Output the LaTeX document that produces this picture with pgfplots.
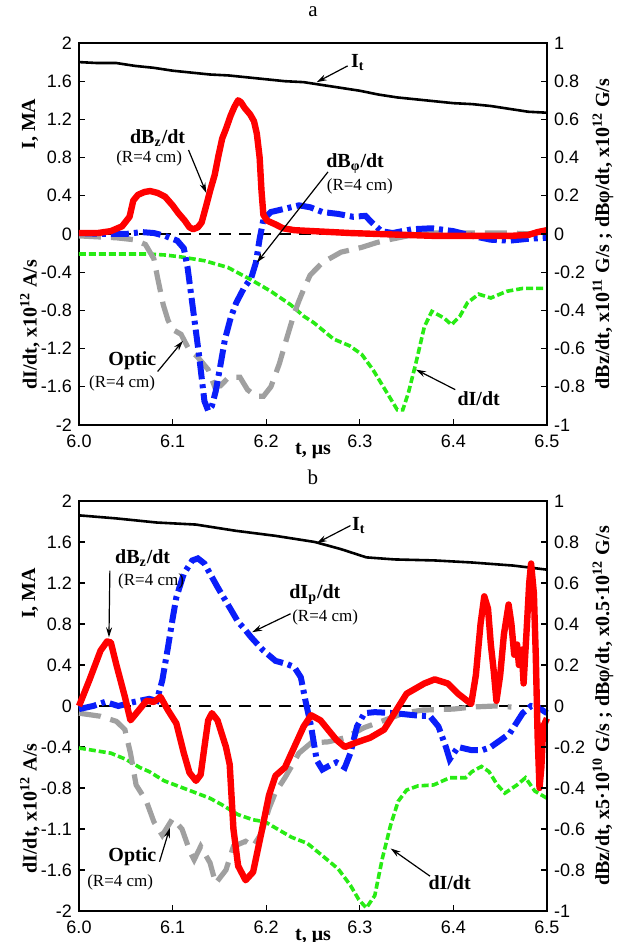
\documentclass[border=0pt]{standalone}
\usepackage{fontspec}
\setmainfont{Liberation Serif}
\newfontfamily\arial{Liberation Sans}
\usepackage{pgfplots}
\pgfplotsset{compat=1.18}
\usetikzlibrary{arrows.meta}

\definecolor{dbred}{RGB}{255,0,0}
\definecolor{dbblue}{RGB}{10,30,250}
\definecolor{optgray}{RGB}{160,160,160}
\definecolor{digreen}{RGB}{40,235,20}

\pgfplotsset{
  panel/.style={scale only axis, width=234pt, anchor=south west,
    xmin=6, xmax=6.5, ymin=-2, ymax=2, clip=false,
    xtick={6,6.1,6.2,6.3,6.4,6.5}, xticklabels={6.0,6.1,6.2,6.3,6.4,6.5},
    ytick={-2,-1.6,-1.2,-0.8,-0.4,0,0.4,0.8,1.2,1.6,2},
    tick label style={font=\arial\fontsize{9}{10}\selectfont},
    xticklabel style={yshift=-1.5pt},
    xtick pos=bottom, ytick pos=left, major tick length=3pt,
    tick style={black, line width=0.6pt},
    axis line style={line width=0.8pt}},
  rightax/.style={scale only axis, width=234pt, anchor=south west,
    xmin=6, xmax=6.5, ymin=-1, ymax=1,
    axis y line*=right, axis x line=none,
    ytick={-1,-0.8,-0.6,-0.4,-0.2,0,0.2,0.4,0.6,0.8,1},
    yticklabels={-1,-0.8,-0.6,-0.4,-0.2,0,0.2,0.4,0.6,0.8,1},
    tick label style={font=\arial\fontsize{9}{10}\selectfont},
    major tick length=3pt, tick style={black, line width=0.6pt},
    axis line style={line width=0.8pt}},
  itline/.style={black, line width=1.3pt},
  zeroline/.style={black, line width=1pt, dash pattern=on 6pt off 4pt},
  redline/.style={dbred, line width=3.2pt, line join=round},
  blueline/.style={dbblue, line width=3pt, dash pattern=on 9pt off 2.5pt on 2pt off 2.5pt},
  grayline/.style={optgray, line width=2.6pt, dash pattern=on 11pt off 5pt},
  greenline/.style={digreen, line width=1.8pt, dash pattern=on 3.5pt off 1.5pt},
}
\tikzset{ann/.style={-{Stealth[length=5pt,width=3pt]}, line width=0.6pt},
  big/.style={font=\bfseries\fontsize{10}{11}\selectfont, inner sep=1pt},
  small/.style={font=\fontsize{8.5}{9}\selectfont, inner sep=1pt}}

\begin{document}
\begin{tikzpicture}
\useasboundingbox (0,0) rectangle (308pt,471pt);

% ---------- panel a ----------
\begin{axis}[panel, name=pa, at={(39.5pt,258.5pt)}, height=191pt,
  yticklabels={-2,-1.6,-1.2,-0.8,-0.4,0,0.4,0.8,1.2,1.6,2}]
\addplot[itline] coordinates {(6.00,1.80) (6.02,1.79) (6.04,1.79) (6.06,1.76) (6.08,1.74)
  (6.10,1.71) (6.12,1.69) (6.14,1.67) (6.16,1.66) (6.18,1.64) (6.20,1.62) (6.22,1.60)
  (6.24,1.59) (6.26,1.56) (6.28,1.53) (6.30,1.50) (6.32,1.46) (6.34,1.43) (6.36,1.41)
  (6.38,1.39) (6.40,1.37) (6.42,1.36) (6.44,1.34) (6.46,1.31) (6.48,1.28) (6.50,1.27)};
\addplot[zeroline] coordinates {(6,0) (6.5,0)};
\addplot[greenline] coordinates {(6.000,-0.21) (6.075,-0.21) (6.092,-0.22) (6.109,-0.24)
  (6.134,-0.28) (6.159,-0.35) (6.184,-0.48) (6.205,-0.60) (6.226,-0.74) (6.240,-0.86)
  (6.251,-0.93) (6.272,-1.10) (6.289,-1.17) (6.302,-1.26) (6.314,-1.42) (6.327,-1.63)
  (6.340,-1.84) (6.346,-1.84) (6.352,-1.66) (6.360,-1.35) (6.369,-0.97) (6.377,-0.81)
  (6.390,-0.88) (6.398,-0.95) (6.407,-0.86) (6.415,-0.72) (6.427,-0.63) (6.440,-0.67)
  (6.457,-0.60) (6.474,-0.57) (6.500,-0.57)};
\addplot[grayline] coordinates {(6.000,-0.02) (6.040,-0.04) (6.059,-0.06) (6.071,-0.11)
  (6.080,-0.26) (6.084,-0.46) (6.090,-0.74) (6.095,-0.90) (6.100,-1.00) (6.109,-1.05)
  (6.117,-1.20) (6.126,-1.28) (6.138,-1.42) (6.145,-1.60) (6.151,-1.59) (6.160,-1.50)
  (6.172,-1.50) (6.180,-1.63) (6.189,-1.70) (6.197,-1.70) (6.205,-1.60) (6.214,-1.36)
  (6.222,-1.09) (6.230,-0.83) (6.235,-0.70) (6.240,-0.58) (6.247,-0.43) (6.260,-0.30)
  (6.280,-0.19) (6.302,-0.14) (6.318,-0.09) (6.331,-0.06) (6.356,-0.01) (6.377,0.01)
  (6.420,0.01) (6.460,0.01) (6.486,0.00)};
\addplot[blueline] coordinates {(6.000,0.01) (6.030,0.00) (6.050,0.00) (6.067,0.02)
  (6.080,0.01) (6.092,-0.02) (6.105,-0.07) (6.112,-0.15) (6.116,-0.35) (6.120,-0.65)
  (6.124,-0.95) (6.128,-1.25) (6.131,-1.50) (6.134,-1.75) (6.138,-1.85) (6.142,-1.80)
  (6.146,-1.65) (6.151,-1.38) (6.156,-1.10) (6.162,-0.88) (6.168,-0.72) (6.176,-0.57)
  (6.184,-0.46) (6.189,-0.30) (6.193,-0.05) (6.197,0.15) (6.205,0.23) (6.218,0.26)
  (6.235,0.30) (6.247,0.28) (6.260,0.23) (6.277,0.21) (6.293,0.18) (6.306,0.19)
  (6.314,0.11) (6.323,0.03) (6.335,0.01) (6.356,0.05) (6.377,0.06) (6.400,0.03)
  (6.420,-0.02) (6.440,-0.06) (6.460,-0.07) (6.480,-0.05) (6.500,-0.04)};
\addplot[redline] coordinates {(6.000,0.01) (6.020,0.01) (6.034,0.03) (6.046,0.08)
  (6.054,0.18) (6.058,0.35) (6.063,0.41) (6.070,0.44) (6.076,0.45) (6.084,0.43)
  (6.092,0.39) (6.100,0.30) (6.106,0.22) (6.113,0.14) (6.118,0.07) (6.122,0.05)
  (6.127,0.07) (6.131,0.12) (6.136,0.30) (6.140,0.45) (6.145,0.62) (6.149,0.82)
  (6.153,1.00) (6.157,1.10) (6.162,1.24) (6.166,1.33) (6.170,1.40) (6.173,1.38)
  (6.177,1.32) (6.183,1.25) (6.187,1.18) (6.190,1.05) (6.193,0.80) (6.195,0.45)
  (6.197,0.20) (6.201,0.14) (6.210,0.10) (6.218,0.06) (6.230,0.04) (6.250,0.03)
  (6.270,0.02) (6.290,0.01) (6.320,0.00) (6.350,-0.01) (6.380,-0.02) (6.420,-0.02)
  (6.460,-0.02) (6.480,-0.01) (6.490,0.02) (6.500,0.04)};
% annotations
\node[big] at (axis cs:6.298,1.80) {I\textsubscript{t}};
\draw[ann] (axis cs:6.287,1.76) -- (axis cs:6.254,1.59);
\node[big] at (axis cs:6.084,1.00) {dB\textsubscript{z}/dt};
\node[small] at (axis cs:6.075,0.79) {(R=4 cm)};
\draw[ann] (axis cs:6.117,0.88) -- (axis cs:6.136,0.43);
\node[big] at (axis cs:6.295,0.74) {dB\textsubscript{φ}/dt};
\node[small] at (axis cs:6.300,0.50) {(R=4 cm)};
\draw[ann] (axis cs:6.266,0.65) -- (axis cs:6.190,-0.30);
\node[big] at (axis cs:6.057,-1.33) {Optic};
\node[small] at (axis cs:6.046,-1.56) {(R=4 cm)};
\draw[ann] (axis cs:6.084,-1.44) -- (axis cs:6.111,-1.12);
\node[big] at (axis cs:6.427,-1.72) {dI/dt};
\draw[ann] (axis cs:6.402,-1.63) -- (axis cs:6.360,-1.42);
% labels
\node[font=\fontsize{10.5}{11}\selectfont] at ([yshift=15.5pt]axis cs:6.25,2) {a};
\node[big] at ([yshift=-13pt]axis cs:6.25,-2) {t, μs};
\node[big, rotate=90] at ([xshift=-24.5pt]axis cs:6,1.15) {I, MA};
\node[big, rotate=90] at ([xshift=-24.5pt]axis cs:6,-0.95) {dI/dt, x10\textsuperscript{12} A/s};
\node[big, rotate=90] at ([xshift=28pt]axis cs:6.5,0) {dBz/dt, x10\textsuperscript{11} G/s ; dBφ/dt, x10\textsuperscript{12} G/s};
\end{axis}
\begin{axis}[rightax, at={(39.5pt,258.5pt)}, height=191pt]
\end{axis}

% ---------- panel b ----------
\begin{axis}[panel, name=pb, at={(39.5pt,15.5pt)}, height=205pt,
  yticklabels={-2,-1.6,-1.1,-0.8,-0.4,0,0.4,0.8,1.2,1.6,2}]
\addplot[itline] coordinates {(6.000,1.86) (6.040,1.83) (6.083,1.79) (6.125,1.77)
  (6.167,1.71) (6.210,1.66) (6.252,1.60) (6.280,1.53) (6.307,1.45) (6.337,1.43)
  (6.380,1.42) (6.420,1.40) (6.464,1.37) (6.500,1.33)};
\addplot[zeroline] coordinates {(6,0) (6.5,0)};
\addplot[greenline] coordinates {(6.000,-0.41) (6.034,-0.46) (6.050,-0.52) (6.065,-0.60)
  (6.075,-0.64) (6.091,-0.73) (6.117,-0.82) (6.140,-0.90) (6.152,-0.96) (6.170,-1.06)
  (6.186,-1.11) (6.199,-1.13) (6.210,-1.19) (6.227,-1.28) (6.244,-1.34) (6.260,-1.46)
  (6.277,-1.59) (6.290,-1.75) (6.299,-1.89) (6.307,-1.97) (6.316,-1.85) (6.324,-1.49)
  (6.333,-1.16) (6.341,-0.93) (6.350,-0.82) (6.362,-0.78) (6.379,-0.77) (6.396,-0.70)
  (6.413,-0.70) (6.420,-0.64) (6.430,-0.59) (6.438,-0.64) (6.447,-0.77) (6.455,-0.85)
  (6.468,-0.77) (6.477,-0.70) (6.487,-0.83) (6.500,-0.90)};
\addplot[grayline] coordinates {(6.000,-0.07) (6.023,-0.10) (6.040,-0.15) (6.049,-0.23)
  (6.055,-0.46) (6.061,-0.77) (6.072,-0.93) (6.080,-1.13) (6.089,-1.26) (6.100,-1.10)
  (6.110,-1.20) (6.119,-1.43) (6.123,-1.50) (6.130,-1.37) (6.140,-1.53) (6.146,-1.73)
  (6.157,-1.60) (6.165,-1.37) (6.178,-1.32) (6.186,-1.37) (6.195,-1.24) (6.203,-1.00)
  (6.210,-0.84) (6.220,-0.70) (6.227,-0.59) (6.235,-0.46) (6.248,-0.36) (6.266,-0.35)
  (6.284,-0.31) (6.305,-0.21) (6.326,-0.14) (6.347,-0.07) (6.367,-0.04) (6.400,-0.03)
  (6.420,-0.01) (6.445,0.00) (6.462,-0.01)};
\addplot[blueline] coordinates {(6.000,-0.03) (6.015,0.00) (6.028,0.04) (6.042,0.00)
  (6.059,0.04) (6.075,0.07) (6.083,0.05) (6.089,0.25) (6.095,0.57) (6.100,0.85)
  (6.104,1.06) (6.112,1.29) (6.121,1.42) (6.127,1.44) (6.134,1.39) (6.148,1.16)
  (6.161,0.96) (6.170,0.82) (6.176,0.76) (6.184,0.67) (6.197,0.54) (6.210,0.44)
  (6.222,0.41) (6.230,0.38) (6.237,0.28) (6.242,0.05) (6.248,-0.20) (6.254,-0.53)
  (6.260,-0.62) (6.268,-0.58) (6.275,-0.55) (6.284,-0.60) (6.290,-0.46) (6.297,-0.20)
  (6.305,-0.07) (6.316,-0.06) (6.337,-0.07) (6.358,-0.09) (6.375,-0.10) (6.384,-0.20)
  (6.392,-0.40) (6.396,-0.52) (6.405,-0.40) (6.419,-0.43) (6.431,-0.43) (6.440,-0.40)
  (6.460,-0.27) (6.474,-0.07) (6.483,0.00) (6.490,-0.01) (6.500,-0.07)};
\addplot[redline] coordinates {(6.000,0.00) (6.011,0.25) (6.023,0.54) (6.030,0.63)
  (6.034,0.62) (6.040,0.40) (6.049,0.09) (6.055,-0.14) (6.064,-0.04) (6.072,0.05)
  (6.080,0.04) (6.087,0.09) (6.095,-0.04) (6.104,-0.17) (6.112,-0.46) (6.118,-0.65)
  (6.125,-0.73) (6.130,-0.67) (6.134,-0.40) (6.138,-0.14) (6.142,-0.07) (6.148,-0.14)
  (6.157,-0.40) (6.161,-0.57) (6.165,-1.20) (6.170,-1.56) (6.178,-1.70) (6.186,-1.62)
  (6.195,-1.23) (6.203,-0.87) (6.210,-0.68) (6.220,-0.60) (6.227,-0.46) (6.240,-0.20)
  (6.248,-0.09) (6.258,-0.14) (6.266,-0.23) (6.275,-0.33) (6.284,-0.40) (6.295,-0.36)
  (6.311,-0.31) (6.326,-0.23) (6.337,-0.07) (6.350,0.12) (6.369,0.22) (6.380,0.26)
  (6.394,0.22) (6.405,0.12) (6.419,0.02) (6.424,0.30) (6.429,0.80) (6.433,1.07)
  (6.437,0.95) (6.440,0.60) (6.443,0.35) (6.446,0.05) (6.450,0.30) (6.454,0.70)
  (6.459,0.99) (6.462,0.80) (6.465,0.50) (6.468,0.60) (6.470,0.40) (6.473,0.55)
  (6.475,0.22) (6.478,0.70) (6.481,1.20) (6.483,1.39) (6.486,1.10) (6.488,0.50)
  (6.490,-0.30) (6.492,-0.80) (6.494,-0.60) (6.496,-0.20) (6.500,-0.12)};
% annotations
\node[big] at (axis cs:6.068,1.44) {dB\textsubscript{z}/dt};
\node[small] at (axis cs:6.077,1.22) {(R=4 cm)};
\draw[ann] (axis cs:6.033,1.32) -- (axis cs:6.032,0.67);
\node[big] at (axis cs:6.299,1.76) {I\textsubscript{t}};
\draw[ann] (axis cs:6.290,1.76) -- (axis cs:6.254,1.59);
\node[big] at (axis cs:6.252,1.09) {dI\textsubscript{p}/dt};
\node[small] at (axis cs:6.263,0.86) {(R=4 cm)};
\draw[ann] (axis cs:6.226,0.90) -- (axis cs:6.185,0.72);
\node[big] at (axis cs:6.057,-1.47) {Optic};
\node[small] at (axis cs:6.044,-1.72) {(R=4 cm)};
\draw[ann] (axis cs:6.086,-1.52) -- (axis cs:6.097,-1.19);
\node[big] at (axis cs:6.396,-1.72) {dI/dt};
\draw[ann] (axis cs:6.375,-1.66) -- (axis cs:6.333,-1.39);
% labels
\node[font=\fontsize{10.5}{11}\selectfont] at ([yshift=12pt]axis cs:6.25,2) {b};
\node[big] at ([yshift=-13pt]axis cs:6.25,-2) {t, μs};
\node[big, rotate=90] at ([xshift=-24.5pt]axis cs:6,1.10) {I, MA};
\node[big, rotate=90] at ([xshift=-24.5pt]axis cs:6,-1.0) {dI/dt, x10\textsuperscript{12} A/s};
\node[big, rotate=90] at ([xshift=28pt]axis cs:6.5,0) {dBz/dt, x5·10\textsuperscript{10} G/s ; dBφ/dt, x0.5·10\textsuperscript{12} G/s};
\end{axis}
\begin{axis}[rightax, at={(39.5pt,15.5pt)}, height=205pt]
\end{axis}
\end{tikzpicture}
\end{document}
